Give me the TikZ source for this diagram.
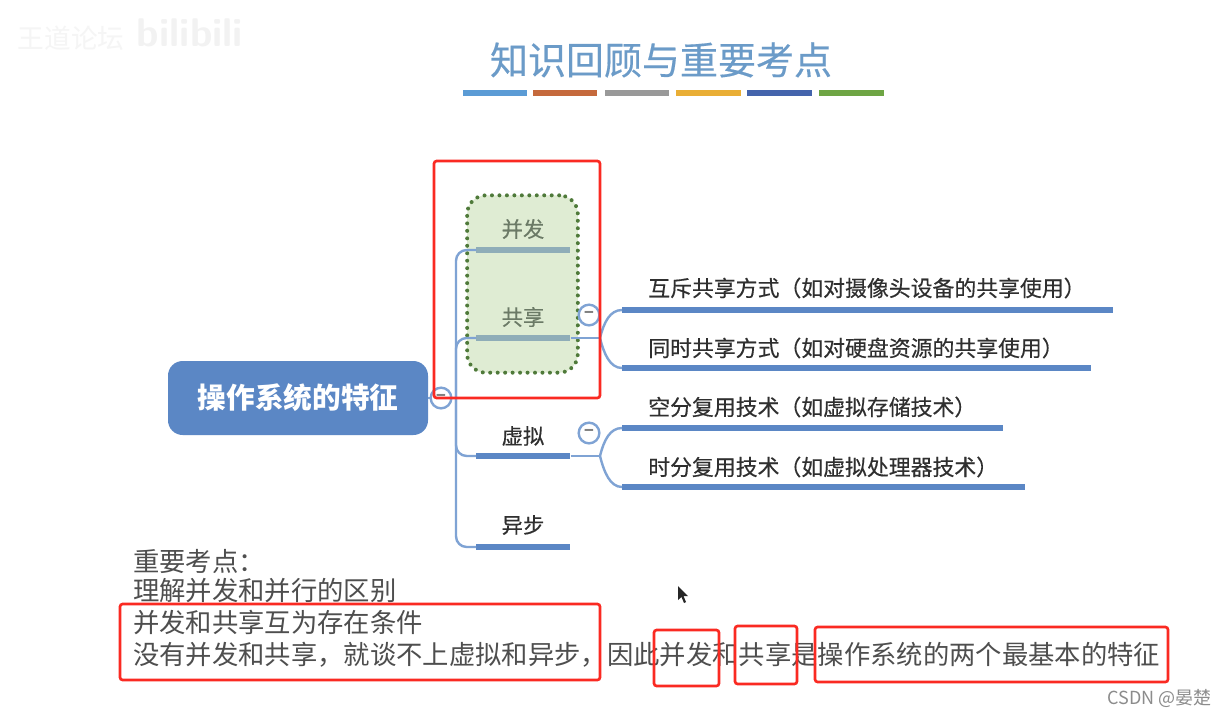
\documentclass[tikz,border=0pt]{standalone}
\usepackage{fontspec}
\setmainfont{Noto Sans CJK SC}
\newfontfamily\medfont[FakeBold=0.35]{Noto Sans CJK SC}
\usetikzlibrary{calc}
\definecolor{mapblue}{HTML}{5B87C5}
\definecolor{linkblue}{HTML}{7FA3D4}
\definecolor{redbox}{HTML}{FA2A22}
\definecolor{inktext}{HTML}{2F2F2F}
\definecolor{greenfill}{HTML}{DFECD3}
\definecolor{greendot}{HTML}{4F7A3A}
\definecolor{greenbar}{HTML}{8FADB8}
\definecolor{titleblue}{HTML}{6B9BC8}
\definecolor{greentext}{HTML}{6B7A66}
\definecolor{barA}{HTML}{5B9BD5}
\definecolor{barB}{HTML}{C5693C}
\definecolor{barC}{HTML}{999999}
\definecolor{barD}{HTML}{E9AE35}
\definecolor{barE}{HTML}{4464AC}
\definecolor{barF}{HTML}{6EA544}
\tikzset{
  hbar/.style={inner sep=0pt,minimum height=4.6pt,fill=mapblue,draw=none,anchor=west},
  conn/.style={draw=linkblue,line width=1.8pt},
  mainlabel/.style={font=\medfont\fontsize{16}{18}\selectfont,text=inktext,inner sep=0pt},
  sublabel/.style={font=\medfont\fontsize{16.4}{18}\selectfont,text=inktext,inner sep=0pt,anchor=west},
  notelabel/.style={font=\fontsize{19.75}{22}\selectfont,text=inktext!85,inner sep=0pt,anchor=west},
  redframe/.style={draw=redbox,line width=2pt,rounded corners=2pt,fill=none},
  minuscircle/.style={circle,draw=linkblue,line width=1.8pt,fill=white,minimum size=15.5pt,inner sep=0pt,
    font=\fontsize{12}{12}\selectfont\bfseries,text=gray},
  titlebar/.style={inner sep=0pt,minimum height=4.5pt,minimum width=48.5pt,anchor=center},
}
\begin{document}
\begin{tikzpicture}[x=0.75pt,y=-0.75pt]
\useasboundingbox (0,0) rectangle (1228,718);
\fill[white] (0,0) rectangle (1228,718);
% watermark
\node[font=\fontsize{20}{22}\selectfont,text=black!4,inner sep=0pt] (wm1) at (71,38) {王道论坛};
\node[font=\fontsize{30}{30}\selectfont\bfseries\sffamily,text=black!5,inner sep=0pt] (wm2) at (190,33) {bilibili};
% title
\node[font=\medfont\fontsize{28.5}{32}\selectfont,text=titleblue,inner sep=0pt] (title) at (661,60) {知识回顾与重要考点};
\node[titlebar,fill=barA] (t1) at (495,93) {};
\node[titlebar,fill=barB] (t2) at (565,93) {};
\node[titlebar,fill=barC] (t3) at (637,93) {};
\node[titlebar,fill=barD] (t4) at (708.5,93) {};
\node[titlebar,fill=barE] (t5) at (779.5,93) {};
\node[titlebar,fill=barF] (t6) at (851.5,93) {};
% highlight area
\node[draw=greendot,line width=3pt,line cap=round,dash pattern=on 0pt off 5.6pt,fill=greenfill,rounded corners=14pt,
  minimum width=83pt,minimum height=133pt,inner sep=0pt] (gbox) at (522.5,284) {};
% root
\node[fill=mapblue,rounded corners=11pt,minimum width=195pt,minimum height=55.5pt,inner sep=0pt,
  text=white,font=\fontsize{21.5}{24}\selectfont\bfseries] (root) at (298,398) {操作系统的特征};
% first-level bars
\node[hbar,minimum width=70.5pt,fill=greenbar] (b1) at (476,250) {};
\node[hbar,minimum width=70.5pt,fill=greenbar] (b2) at (476,338) {};
\node[hbar,minimum width=70.5pt] (b3) at (476,456) {};
\node[hbar,minimum width=70.5pt] (b4) at (476,547) {};
\node[mainlabel,text=greentext] (l1) at (523,229) {并发};
\node[mainlabel,text=greentext] (l2) at (523,317) {共享};
\node[mainlabel] (l3) at (523,436) {虚拟};
\node[mainlabel] (l4) at (523,525) {异步};
% second-level bars
\node[hbar,minimum width=368.25pt] (s1) at (622,310) {};
\node[hbar,minimum width=351.75pt] (s2) at (622,368) {};
\node[hbar,minimum width=285.75pt] (s3) at (622,428) {};
\node[hbar,minimum width=302.25pt] (s4) at (622,487) {};
\node[sublabel] (m1) at (648,288) {互斥共享方式（如对摄像头设备的共享使用）};
\node[sublabel] (m2) at (648,348) {同时共享方式（如对硬盘资源的共享使用）};
\node[sublabel] (m3) at (648,407) {空分复用技术（如虚拟存储技术）};
\node[sublabel] (m4) at (648,467) {时分复用技术（如虚拟处理器技术）};
% connectors
\coordinate (spine) at (456,398);
\coordinate (j2) at (600,338);
\coordinate (j3) at (600,456);
\draw[conn] (root.east) -- (spine);
\draw[conn,rounded corners=8pt] (spine) |- (b1.west);
\draw[conn,rounded corners=8pt] (spine) |- (b2.west);
\draw[conn,rounded corners=8pt] (spine) |- (b3.west);
\draw[conn,rounded corners=8pt] (spine) |- (b4.west);
\draw[conn] (b2.east) -- (j2);
\draw[conn] (b3.east) -- (j3);
\draw[conn] (j2) .. controls (604,322) and (610,310) .. (s1.west);
\draw[conn] (j2) .. controls (604,354) and (610,368) .. (s2.west);
\draw[conn] (j3) .. controls (604,440) and (610,428) .. (s3.west);
\draw[conn] (j3) .. controls (604,472) and (610,487) .. (s4.west);
% collapse circles
\node[minuscircle] (c0) at (441,398) {−};
\node[minuscircle] (c2) at (589,315) {−};
\node[minuscircle] (c3) at (589,433) {−};
% notes
\node[notelabel] (n1) at (133,561) {重要考点：};
\node[notelabel] (n2) at (133,591) {理解并发和并行的区别};
\node[notelabel] (n3) at (133,622) {并发和共享互为存在条件};
\node[notelabel] (n4) at (133,655) {没有并发和共享，就谈不上虚拟和异步，因此并发和共享是操作系统的两个最基本的特征};
% red frames
\draw[redframe] (434,161) rectangle (600,398);
\draw[redframe] (120,604) rectangle (600,680);
\draw[redframe] (654,630) rectangle (719,686);
\draw[redframe] (735,626) rectangle (797,684);
\draw[redframe] (815,627) rectangle (1168,682);
% cursor
\fill[black!85] (678,586) -- (678,600) -- (681.5,597) -- (684,603) -- (686,602) -- (683.5,596) -- (688,596) -- cycle;
% credit
\node[font=\fontsize{13.5}{15}\selectfont,text=black!45,inner sep=0pt,anchor=east] (credit) at (1212,698) {CSDN @晏楚};
\end{tikzpicture}
\end{document}
